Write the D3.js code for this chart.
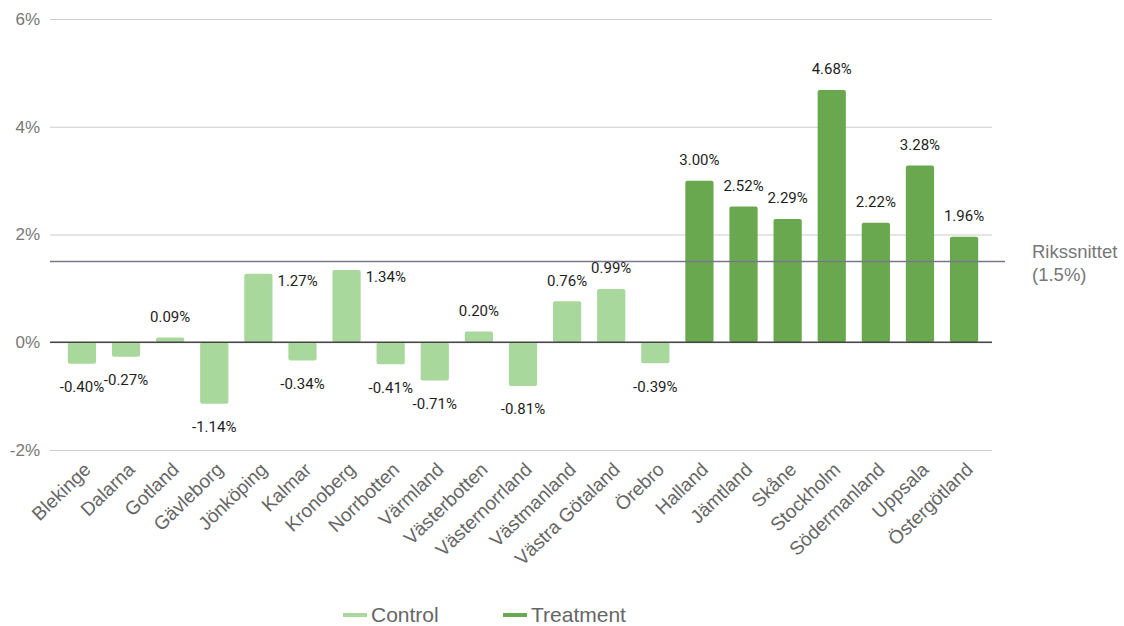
<!DOCTYPE html>
<html>
<head>
<meta charset="utf-8">
<script src="https://cdn.jsdelivr.net/npm/d3@7"></script>
<style>
  html, body { margin: 0; padding: 0; background: #fff; }
  svg { display: block; }
</style>
</head>
<body>
<svg id="chart" width="1124" height="626"></svg>
<script>
// Regional change (%) by county, control vs treatment counties
const counties = ["Blekinge", "Dalarna", "Gotland", "Gävleborg", "Jönköping", "Kalmar", "Kronoberg",
  "Norrbotten", "Värmland", "Västerbotten", "Västernorrland", "Västmanland", "Västra Götaland", "Örebro",
  "Halland", "Jämtland", "Skåne", "Stockholm", "Södermanland", "Uppsala", "Östergötland"];
const values = [-0.40, -0.27, 0.09, -1.14, 1.27, -0.34, 1.34,
  -0.41, -0.71, 0.20, -0.81, 0.76, 0.99, -0.39,
  3.00, 2.52, 2.29, 4.68, 2.22, 3.28, 1.96];
const groups = ["Control", "Control", "Control", "Control", "Control", "Control", "Control",
  "Control", "Control", "Control", "Control", "Control", "Control", "Control",
  "Treatment", "Treatment", "Treatment", "Treatment", "Treatment", "Treatment", "Treatment"];
const yTicks = [-2, 0, 2, 4, 6];
const nationalAverage = 1.5;
const seriesNames = ["Control", "Treatment"];
const seriesColors = ["#a9d89d", "#6aa84f"];

const svg = d3.select("#chart");
const plotLeft = 50, plotRight = 992;

const x = d3.scaleBand().domain(counties).range([59, 987]).paddingInner(0.36).paddingOuter(0.2);
const y = d3.scaleLinear().domain([-2, 6]).range([450, 19]);
const color = d3.scaleOrdinal().domain(seriesNames).range(seriesColors);

// Horizontal gridlines with percent labels
const yAxis = d3.axisLeft(y).tickValues(yTicks).tickFormat(d => d + "%")
  .tickSize(-(plotRight - plotLeft)).tickPadding(10);
const gy = svg.append("g").attr("transform", `translate(${plotLeft},0)`).call(yAxis);
gy.select(".domain").remove();
gy.selectAll(".tick line").attr("stroke", "#cccccc").attr("stroke-width", 1.2);
gy.selectAll(".tick text")
  .attr("fill", "#777")
  .style("font-family", "'Liberation Sans', Arial, sans-serif")
  .style("font-size", "17px");

// Bars
const data = counties.map((c, i) => ({ county: c, value: values[i], group: groups[i] }));
svg.append("g").selectAll("rect").data(data).join("rect")
  .attr("x", d => x(d.county))
  .attr("width", x.bandwidth())
  .attr("y", d => y(Math.max(0, d.value)))
  .attr("height", d => Math.abs(y(d.value) - y(0)))
  .attr("rx", 2).attr("ry", 2)
  .attr("fill", d => color(d.group));

// Zero baseline
svg.append("line")
  .attr("x1", plotLeft).attr("x2", plotRight)
  .attr("y1", y(0)).attr("y2", y(0))
  .attr("stroke", "#444").attr("stroke-width", 1.5);

// National average reference line
svg.append("line")
  .attr("x1", plotLeft).attr("x2", 1005)
  .attr("y1", y(nationalAverage)).attr("y2", y(nationalAverage))
  .attr("stroke", "#77778a").attr("stroke-width", 1.5);
const avgText = svg.append("text")
  .attr("x", 1032).attr("y", y(nationalAverage) - 3)
  .attr("fill", "#777")
  .style("font-family", "'Liberation Sans', Arial, sans-serif")
  .style("font-size", "18.5px");
avgText.append("tspan").attr("x", 1032).text("Rikssnittet");
avgText.append("tspan").attr("x", 1032).attr("dy", 23).text(`(${nationalAverage}%)`);

// Value labels; a label that would sit on the reference line goes beside its bar
const pxPerUnit = y(0) - y(1);
const besideBar = d => d.value > 0 && d.value < nationalAverage &&
  (nationalAverage - d.value) * pxPerUnit < 18;
svg.append("g").selectAll("text").data(data).join("text")
  .attr("x", d => besideBar(d) ? x(d.county) + x.bandwidth() + 5 : x(d.county) + x.bandwidth() / 2)
  .attr("y", d => besideBar(d) ? y(d.value) + 7 : (d.value >= 0 ? y(d.value) - 21 : y(d.value) + 23))
  .attr("dy", "0.35em")
  .attr("text-anchor", d => besideBar(d) ? "start" : "middle")
  .attr("fill", "#1e1e1e")
  .style("font-family", "Roboto, sans-serif")
  .style("font-size", "15px")
  .text(d => d.value.toFixed(2) + "%");

// Category labels, rotated
const xAxis = d3.axisBottom(x).tickSize(0).tickPadding(0);
const gx = svg.append("g").attr("transform", "translate(0,471)").call(xAxis);
gx.select(".domain").remove();
gx.selectAll(".tick text")
  .attr("text-anchor", "end")
  .attr("transform", "translate(10,0) rotate(-44)")
  .attr("dy", "0")
  .attr("fill", "#666")
  .style("font-family", "'Liberation Sans', Arial, sans-serif")
  .style("font-size", "19px");

// Legend
const legendItems = [{ name: "Control", x: 343 }, { name: "Treatment", x: 503 }];
const lg = svg.append("g").selectAll("g").data(legendItems).join("g")
  .attr("transform", d => `translate(${d.x},615)`);
lg.append("line").attr("x1", 0).attr("x2", 24).attr("y1", 0).attr("y2", 0)
  .attr("stroke", d => color(d.name)).attr("stroke-width", 4);
lg.append("text").attr("x", 28).attr("y", 0).attr("dy", "0.35em")
  .attr("fill", "#666")
  .style("font-family", "'Liberation Sans', Arial, sans-serif")
  .style("font-size", "21px")
  .text(d => d.name);
</script>
</body>
</html>
